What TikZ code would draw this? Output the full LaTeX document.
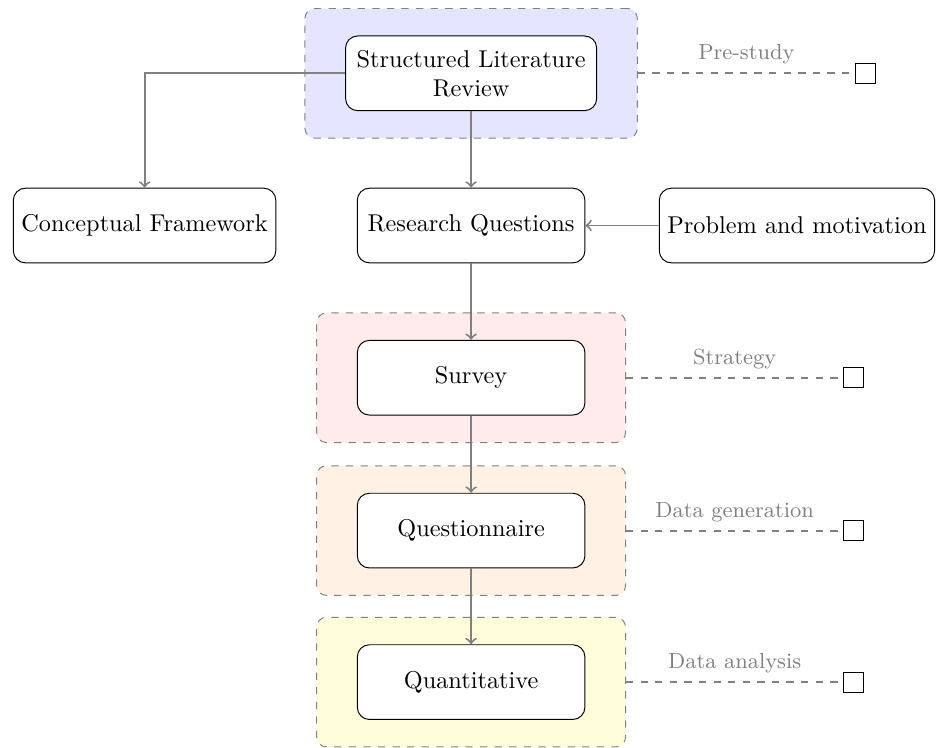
\documentclass[tikz,border=0pt]{standalone}
\usetikzlibrary{positioning,fit,backgrounds}

\begin{document}
\begin{tikzpicture}[
      Box/.style={draw, rounded corners=5pt, fill=white, align=center, minimum height=1.08cm},
      StepBox/.style={Box, minimum width=3.29cm},
      Phase/.style={draw=gray, dashed, rounded corners=4pt, inner xsep=0.58cm, inner ysep=0.39cm},
      Flow/.style={->, gray, thick},
      Link/.style={gray, thick, dashed},
      Tag/.style={draw, fill=white, minimum size=0.29cm, inner sep=0pt},
      Note/.style={text=gray, font=\small},
      ]
      \useasboundingbox (0,0) rectangle (13.53,-10.80);

      \node[Box, minimum width=3.63cm] (slr) at (6.81,-1.06) {Structured Literature\\Review};
      \node[Box] (cf) at (2.09,-3.26) {Conceptual Framework};
      \node[StepBox] (rq) at (6.81,-3.26) {Research Questions};
      \node[Box] (pm) at (11.52,-3.26) {Problem and motivation};
      \node[StepBox] (sv) at (6.81,-5.46) {Survey};
      \node[StepBox] (qn) at (6.81,-7.67) {Questionnaire};
      \node[StepBox] (qt) at (6.81,-9.86) {Quantitative};

      \begin{scope}[on background layer]
        \node[Phase, fill=blue!10, fit=(slr)] (preStudy) {};
        \node[Phase, fill=red!8, fit=(sv)] (strategy) {};
        \node[Phase, fill=orange!10, fit=(qn)] (dataGen) {};
        \node[Phase, fill=yellow!15, fit=(qt)] (dataAna) {};
      \end{scope}

      \draw[Flow] (slr.west) -| (cf.north);
      \draw[Flow] (slr) -- (rq);
      \draw[Flow] (pm) -- (rq);
      \draw[Flow] (rq) -- (sv);
      \draw[Flow] (sv) -- (qn);
      \draw[Flow] (qn) -- (qt);

      \node[Tag, right=3.14cm of preStudy] (preTag) {};
      \node[Tag, right=3.14cm of strategy] (stratTag) {};
      \node[Tag, right=3.14cm of dataGen] (genTag) {};
      \node[Tag, right=3.14cm of dataAna] (anaTag) {};

      \draw[Link] (preStudy) -- (preTag) node[midway, above, Note] {Pre-study};
      \draw[Link] (strategy) -- (stratTag) node[midway, above, Note] {Strategy};
      \draw[Link] (dataGen) -- (genTag) node[midway, above, Note] {Data generation};
      \draw[Link] (dataAna) -- (anaTag) node[midway, above, Note] {Data analysis};
    \end{tikzpicture}
\end{document}
